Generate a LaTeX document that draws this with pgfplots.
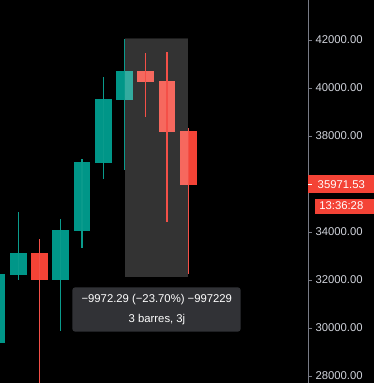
\documentclass[border=0pt]{standalone}
\usepackage{pgfplots}
\pgfplotsset{compat=1.18}
\usepackage{pgfplotstable}
\usepackage{fontspec}
\setmainfont{Liberation Sans}
\definecolor{upc}{RGB}{0,150,136}
\definecolor{upw}{RGB}{10,155,140}
\definecolor{dnc}{RGB}{244,67,54}
\definecolor{dnw}{RGB}{244,80,72}
\definecolor{axc}{RGB}{120,123,134}
\definecolor{lblc}{RGB}{209,212,220}
\definecolor{tipc}{RGB}{49,50,54}

\pgfplotstableread{
x open high low close
0 29388 32600 29100 32250
1 32221 34833 32012 33125
3 32012 34542 29887 34071
4 34054 37042 33346 36904
5 36888 40458 36208 39529
6 39513 42040 36583 40708
}\upcandles
\pgfplotstableread{
x open high low close
2 33125 33708 27000 32012
7 40708 41458 38792 40263
8 40292 41500 34429 38179
9 38208 38333 32250 35971.53
}\downcandles

\begin{document}
\begin{tikzpicture}
\useasboundingbox (0pt,0pt) rectangle (374pt,383pt);
\fill[black] (0pt,0pt) rectangle (374pt,383pt);
\begin{axis}[
  at={(0pt,0pt)}, anchor=south west,
  scale only axis, width=308pt, height=383pt,
  xmin=0.139, xmax=14.633, ymin=27708.3, ymax=43666.7,
  axis x line=none, axis y line*=right,
  y axis line style={draw=axc, line width=0.8pt},
  ytick={28000,30000,32000,34000,38000,40000,42000},
  scaled y ticks=false,
  tick align=outside, major tick length=4pt,
  ytick style={draw=axc, line width=0.8pt},
  yticklabel style={font=\fontsize{11.3}{12}\selectfont, text=lblc, anchor=west,
    /pgf/number format/.cd, fixed, fixed zerofill, precision=2, 1000 sep={}, assume math mode=true},
  clip=true,
]
% bodies
\addplot[draw=none, mark=none, error bars/.cd, y dir=both, y explicit, error mark=none,
  error bar style={draw=upc, line width=16.7pt}]
  table[x=x, y expr={(\thisrow{open}+\thisrow{close})/2}, y error expr={abs(\thisrow{close}-\thisrow{open})/2}] {\upcandles};
\addplot[draw=none, mark=none, error bars/.cd, y dir=both, y explicit, error mark=none,
  error bar style={draw=dnc, line width=16.7pt}]
  table[x=x, y expr={(\thisrow{open}+\thisrow{close})/2}, y error expr={abs(\thisrow{close}-\thisrow{open})/2}] {\downcandles};
% measure rectangle
\addplot[fill=white, fill opacity=0.2, draw=black, draw opacity=0.45, line width=1.2pt]
  coordinates {(6,42077) (9,42077) (9,32105) (6,32105)} -- cycle;
% wicks
\addplot[draw=none, mark=none, error bars/.cd, y dir=both, y explicit, error mark=none,
  error bar style={draw=upw, line width=1.25pt}]
  table[x=x, y expr={(\thisrow{high}+\thisrow{low})/2}, y error expr={(\thisrow{high}-\thisrow{low})/2}] {\upcandles};
\addplot[draw=none, mark=none, error bars/.cd, y dir=both, y explicit, error mark=none,
  error bar style={draw=dnw, line width=1.25pt}]
  table[x=x, y expr={(\thisrow{high}+\thisrow{low})/2}, y error expr={(\thisrow{high}-\thisrow{low})/2}] {\downcandles};
\end{axis}
% tooltip
\fill[tipc, rounded corners=3pt] (72.3pt,51.3pt) rectangle (240.7pt,95.7pt);
\node[anchor=base, text=white, font=\fontsize{11.3}{12}\selectfont, inner sep=0pt] at (156.8pt,80.3pt) {−9972.29 (−23.70\%) −997229};
\node[anchor=base, text=white, font=\fontsize{11.3}{12}\selectfont, inner sep=0pt] at (157pt,60.3pt) {3 barres, 3j};
% price label
\fill[dnc] (308.3pt,189.7pt) rectangle (374pt,208.3pt);
\draw[white, line width=0.8pt] (308pt,198.3pt) -- (312pt,198.3pt);
\node[anchor=base, text=white, font=\fontsize{11.3}{12}\selectfont, inner sep=0pt] at (341.3pt,194.3pt) {35971.53};
\fill[dnc] (315pt,169pt) rectangle (374pt,184pt);
\node[anchor=base, text=white, font=\fontsize{11.3}{12}\selectfont, inner sep=0pt] at (341.3pt,173.7pt) {13:36:28};
\end{tikzpicture}
\end{document}
